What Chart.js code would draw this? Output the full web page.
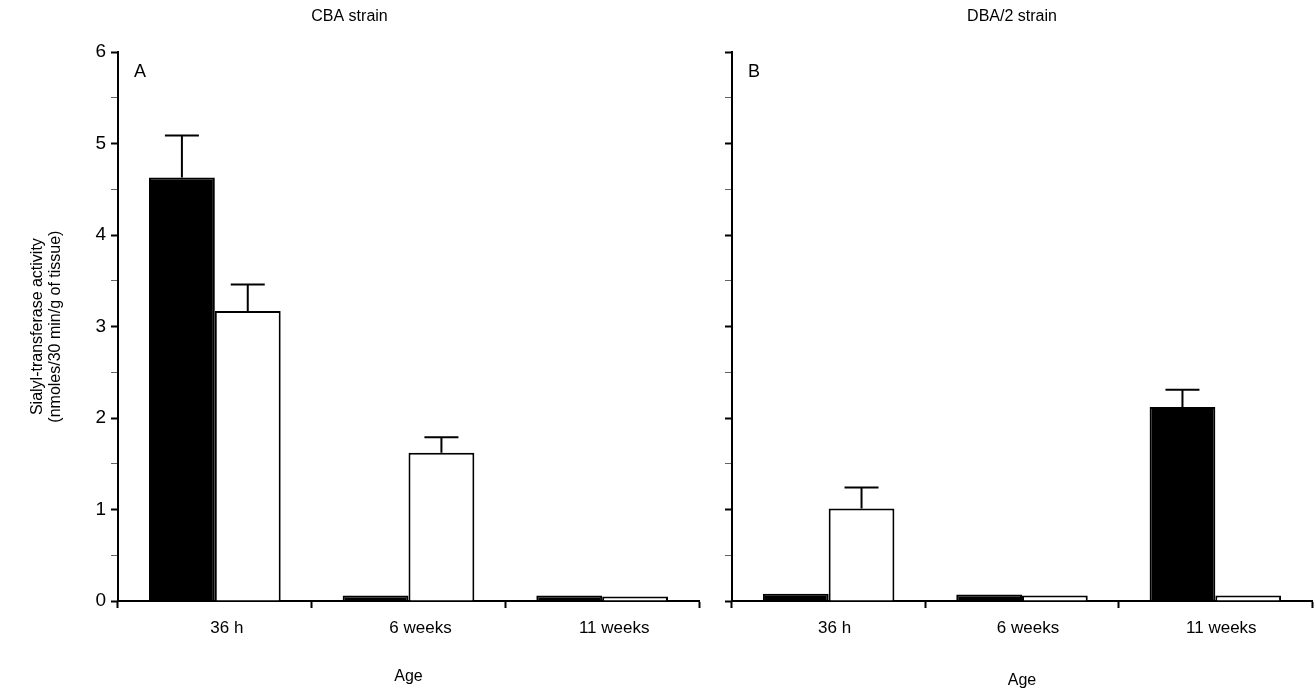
<!DOCTYPE html>
<html>
<head>
<meta charset="utf-8">
<script src="https://cdn.jsdelivr.net/npm/chart.js@4.4.0/dist/chart.umd.min.js"></script>
<style>
  html, body { margin: 0; padding: 0; background: #fff; }
  #left { position: absolute; left: 0; top: 0; }
  #right { position: absolute; left: 712px; top: 0; }
</style>
</head>
<body>
<canvas id="left" width="712" height="700"></canvas>
<canvas id="right" width="603" height="700"></canvas>
<script>
// data
const ageLabels = ['36 h', '6 weeks', '11 weeks'];

const cbaBlack = [4.63, 0.06, 0.06];
const cbaWhite = [3.17, 1.62, 0.05];
const cbaBlackErr = [0.46, 0, 0];
const cbaWhiteErr = [0.29, 0.17, 0];

const dbaBlack = [0.08, 0.07, 2.12];
const dbaWhite = [1.01, 0.06, 0.06];
const dbaBlackErr = [0, 0, 0.19];
const dbaWhiteErr = [0.23, 0, 0];

const yMin = 0, yMax = 6, yStep = 0.5;
const FONT = "'Liberation Sans', Arial, Helvetica, sans-serif";

// T-shaped error bars (upper only)
const errorBars = {
    id: 'errorBars',
    afterDatasetsDraw(chart) {
        const ctx = chart.ctx;
        const y = chart.scales.y;
        ctx.save();
        ctx.strokeStyle = '#000';
        ctx.lineWidth = 2;
        chart.data.datasets.forEach((ds, i) => {
            chart.getDatasetMeta(i).data.forEach((bar, j) => {
                const e = ds.errors[j];
                if (!e) return;
                const top = y.getPixelForValue(ds.data[j] + e);
                ctx.beginPath();
                ctx.moveTo(bar.x, bar.y);
                ctx.lineTo(bar.x, top);
                ctx.moveTo(bar.x - 17, top);
                ctx.lineTo(bar.x + 17, top);
                ctx.stroke();
            });
        });
        ctx.restore();
    }
};

// panel letter A / B in the top left corner of the plot
const panelLetter = {
    id: 'panelLetter',
    afterDraw(chart, args, opts) {
        const ctx = chart.ctx;
        const a = chart.chartArea;
        ctx.save();
        ctx.fillStyle = '#000';
        ctx.font = '18px ' + FONT;
        ctx.textBaseline = 'middle';
        ctx.fillText(opts.text, a.left + 16, a.top + 20);
        ctx.restore();
    }
};

function makeChart(id, black, white, blackErr, whiteErr, title, letter, left) {
    return new Chart(document.getElementById(id), {
        type: 'bar',
        data: {
            labels: ageLabels,
            datasets: [
                { data: black, errors: blackErr, backgroundColor: '#000', borderColor: '#000', borderWidth: 2,
                  categoryPercentage: 0.68, barPercentage: 1.0 },
                { data: white, errors: whiteErr, backgroundColor: '#fff', borderColor: '#000', borderWidth: 2,
                  categoryPercentage: 0.68, barPercentage: 1.0 }
            ]
        },
        options: {
            responsive: false,
            animation: false,
            devicePixelRatio: 1,
            layout: { padding: { left: 0, right: left ? 13 : 3, top: 0, bottom: 0 } },
            plugins: {
                legend: { display: false },
                tooltip: { enabled: false },
                title: {
                    display: true, text: title, color: '#000',
                    font: { family: FONT, size: 16, weight: 'normal', lineHeight: 1.2 },
                    padding: { top: 7, bottom: 26 }
                },
                panelLetter: { text: letter }
            },
            scales: {
                x: {
                    offset: true,
                    grid: { display: true, offset: true, drawOnChartArea: false, drawTicks: true,
                            tickLength: 7, tickColor: '#000', tickWidth: 2 },
                    border: { display: true, color: '#000', width: 2 },
                    ticks: { color: '#000', font: { family: FONT, size: 17 }, padding: 10, maxRotation: 0,
                             labelOffset: left ? 12 : 6 },
                    title: { display: true, text: 'Age', color: '#000',
                             font: { family: FONT, size: 16, lineHeight: 1.2 },
                             padding: { top: 0, bottom: left ? 14 : 10 } },
                    afterFit: s => { s.height = 99; }
                },
                y: {
                    min: yMin, max: yMax,
                    ticks: {
                        stepSize: yStep, display: left, color: '#000', padding: 5,
                        font: { family: FONT, size: 19 },
                        callback: v => Number.isInteger(v) ? v : ''
                    },
                    grid: {
                        drawOnChartArea: false, drawTicks: true, tickLength: 7,
                        tickColor: c => Number.isInteger(c.tick.value) ? '#000' : '#666',
                        tickWidth: c => Number.isInteger(c.tick.value) ? 2 : 1
                    },
                    border: { display: true, color: '#000', width: 2 },
                    title: {
                        display: left, color: '#000',
                        text: ['Sialyl-transferase activity', '(nmoles/30 min/g of tissue)'],
                        font: { family: FONT, size: 16, lineHeight: 1.1 },
                        padding: { top: 29, bottom: 0 }
                    },
                    afterFit: s => { s.width = left ? 118 : 20; }
                }
            }
        },
        plugins: [errorBars, panelLetter]
    });
}

makeChart('left', cbaBlack, cbaWhite, cbaBlackErr, cbaWhiteErr, 'CBA strain', 'A', true);
makeChart('right', dbaBlack, dbaWhite, dbaBlackErr, dbaWhiteErr, 'DBA/2 strain', 'B', false);
</script>
</body>
</html>
